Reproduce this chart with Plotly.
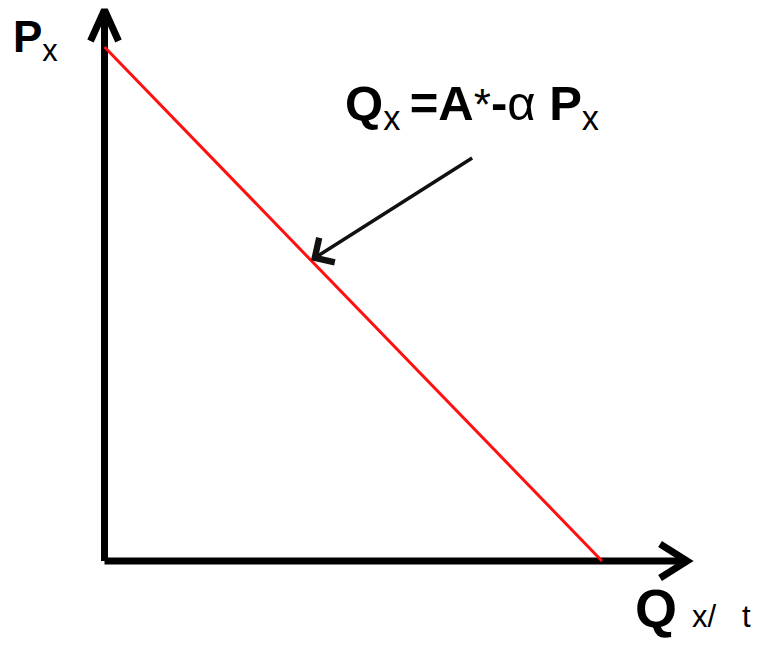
import plotly.graph_objects as go

# Demand curve data: Q = A* - alpha * P
Q_vals = [0.0, 10.0]
P_vals = [10.0, 0.0]

# axis extents (data units)
x_axis_end = 11.71
y_axis_end = 10.72

# annotation arrow (data units)
arrow_head = (4.15, 5.85)
arrow_tail = (7.42, 7.86)

# page has an 8px body margin, so the figure is 8px smaller than the window
W, H = 751, 640
x_range = [-1.9397, 13.156]
y_range = [-1.6926, 10.7588]

fig = go.Figure()

axis_col = "black"
fig.add_trace(go.Scatter(x=[0, 0], y=[0, y_axis_end], mode="lines",
                         line=dict(color=axis_col, width=7), hoverinfo="skip"))
fig.add_trace(go.Scatter(x=[0, x_axis_end], y=[0, 0], mode="lines",
                         line=dict(color=axis_col, width=7), hoverinfo="skip"))
xs = (x_range[1] - x_range[0]) / W
ys = (y_range[1] - y_range[0]) / H
fig.add_trace(go.Scatter(
    x=[-14 * xs, 0, 14 * xs], y=[y_axis_end - 31 * ys, y_axis_end, y_axis_end - 31 * ys],
    mode="lines", line=dict(color=axis_col, width=7), hoverinfo="skip"))
fig.add_trace(go.Scatter(
    x=[x_axis_end - 27 * xs, x_axis_end, x_axis_end - 27 * xs], y=[17 * ys, 0, -17 * ys],
    mode="lines", line=dict(color=axis_col, width=7), hoverinfo="skip"))

fig.add_trace(go.Scatter(x=Q_vals, y=P_vals, mode="lines",
                         line=dict(color="#ff1010", width=3), hoverinfo="skip"))

fig.add_annotation(x=arrow_head[0], y=arrow_head[1], ax=arrow_tail[0], ay=arrow_tail[1],
                   xref="x", yref="y", axref="x", ayref="y", text="", showarrow=True,
                   arrowhead=4, arrowwidth=3.5, arrowsize=1.6, arrowcolor="#111")

fam = "Liberation Sans, Arial, sans-serif"
fig.add_annotation(xref="paper", yref="paper", x=335 / W, y=1 - 66 / H,
                   xanchor="left", yanchor="top", showarrow=False,
                   text="<b>Q</b><sub>x</sub><span style='font-size:34px'>&nbsp;</span><b>=A</b>"
                        "<span style='font-size:44px'>*</span><b>-</b>α <b>P</b><sub>x</sub>",
                   font=dict(family=fam, size=49, color="black"))
fig.add_annotation(xref="paper", yref="paper", x=3 / W, y=1 - 2 / H,
                   xanchor="left", yanchor="top", showarrow=False,
                   text="<b>P</b><sub>x</sub>",
                   font=dict(family=fam, size=44, color="black"))
fig.add_annotation(xref="paper", yref="paper", x=625 / W, y=1 - 568 / H,
                   xanchor="left", yanchor="top", showarrow=False,
                   text="<b>Q</b> <span style='font-size:31px'>x/&nbsp;&nbsp;&nbsp;t</span>",
                   font=dict(family=fam, size=54, color="black"))

fig.update_layout(width=W, height=H, margin=dict(l=0, r=0, t=0, b=0),
                  paper_bgcolor="white", plot_bgcolor="white", showlegend=False,
                  xaxis=dict(range=x_range, visible=False, fixedrange=True),
                  yaxis=dict(range=y_range, visible=False, fixedrange=True))

fig.write_html("out.html")
